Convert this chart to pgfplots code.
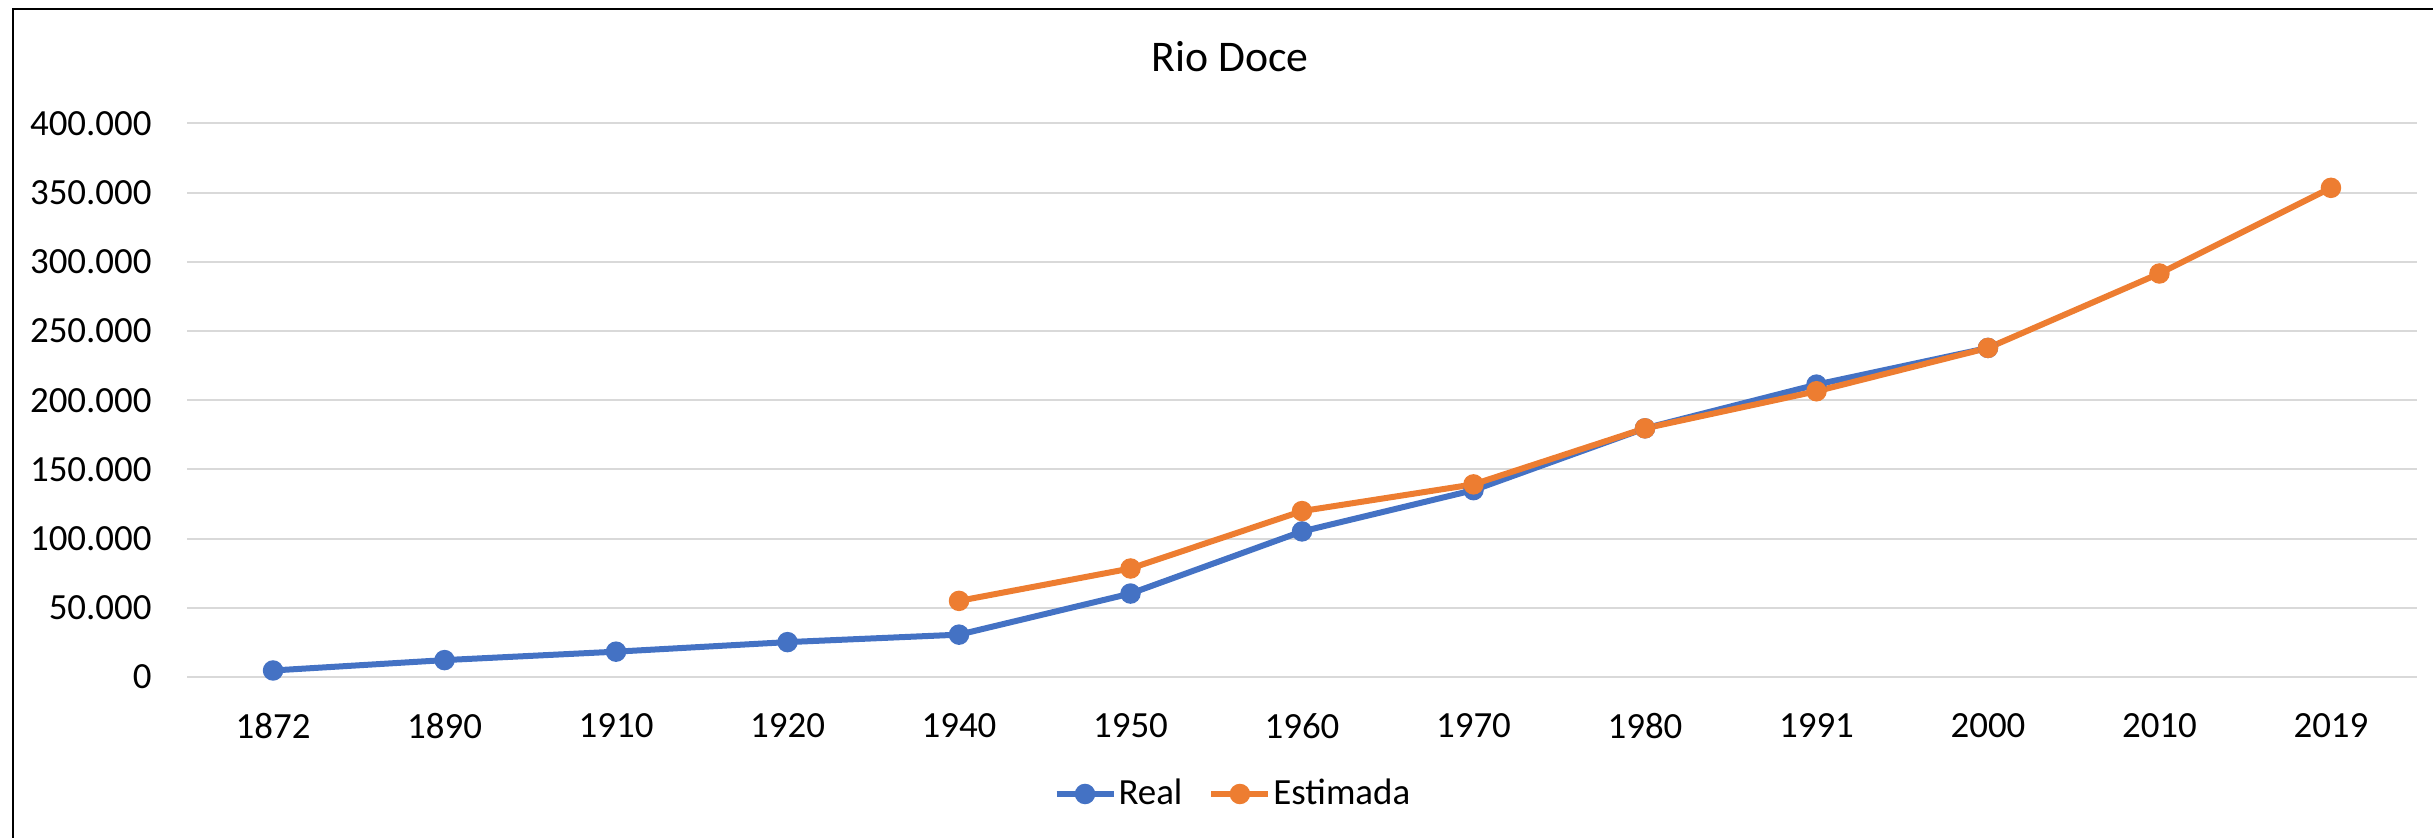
\documentclass[border=0pt]{standalone}
\usepackage{pgfplots}
\pgfplotsset{compat=1.18}
\usepackage{fontspec}
\setmainfont{Carlito}
\definecolor{exblue}{HTML}{4472C4}
\definecolor{exorange}{HTML}{ED7D31}
\definecolor{exgrid}{HTML}{D9D9D9}
\begin{document}
\begin{tikzpicture}
\useasboundingbox (0,0) rectangle (243.3mm,83.8mm);
\begin{scope}
\clip (0,0) rectangle (243.3mm,83.8mm);
\draw[line width=0.2mm] (1.3mm,-5mm) -- (1.3mm,82.9mm) -- (250mm,82.9mm);
\end{scope}
\node[anchor=base,font=\fontsize{12.45}{14}\selectfont] at (123.0mm,76.63mm) {Rio Doce};
\begin{axis}[
  at={(18.73mm,16.1mm)}, anchor=south west,
  scale only axis, width=222.94mm, height=55.35mm,
  xmin=-0.5, xmax=12.5, ymin=0, ymax=400000,
  xtick={0,...,12},
  xticklabels={1872,1890,1910,1920,1940,1950,1960,1970,1980,1991,2000,2010,2019},
  ytick={0,50000,100000,150000,200000,250000,300000,350000,400000},
  yticklabels={0,50.000,100.000,150.000,200.000,250.000,300.000,350.000,400.000},
  scaled y ticks=false,
  axis line style={draw=none},
  major tick length=0pt,
  ymajorgrids, grid style={exgrid, line width=0.2mm},
  ticklabel style={font=\fontsize{10.5}{12}\selectfont, inner sep=0pt},
  xticklabel style={anchor=north, yshift=-3.6mm},
  yticklabel style={anchor=east, xshift=-3.5mm},
  clip=false,
  legend columns=2,
  legend style={at={(0.469,-0.2114)}, anchor=center, draw=none, fill=none,
    font=\fontsize{10.5}{12}\selectfont, inner sep=0pt,
    nodes={inner sep=0.2mm},
    /tikz/every even column/.append style={column sep=2.4mm}},
  legend image code/.code={\draw[mark repeat=2,mark phase=2] plot coordinates {(0mm,0mm) (2.85mm,0mm) (5.7mm,0mm)};},
]
\addplot[exblue, line width=0.6mm, mark=*, mark size=0.72mm, mark options={solid}] coordinates {
(0,4700) (1,12200) (2,18300) (3,25200) (4,30600) (5,60300) (6,105200) (7,135000) (8,179700) (9,211300) (10,237800)};
\addlegendentry{Real}
\addplot[exorange, line width=0.6mm, mark=*, mark size=0.72mm, mark options={solid}] coordinates {
(4,55000) (5,78400) (6,119900) (7,139200) (8,179700) (9,206500) (10,237800) (11,291600) (12,353500)};
\addlegendentry{Estimada}
\end{axis}
\end{tikzpicture}
\end{document}
